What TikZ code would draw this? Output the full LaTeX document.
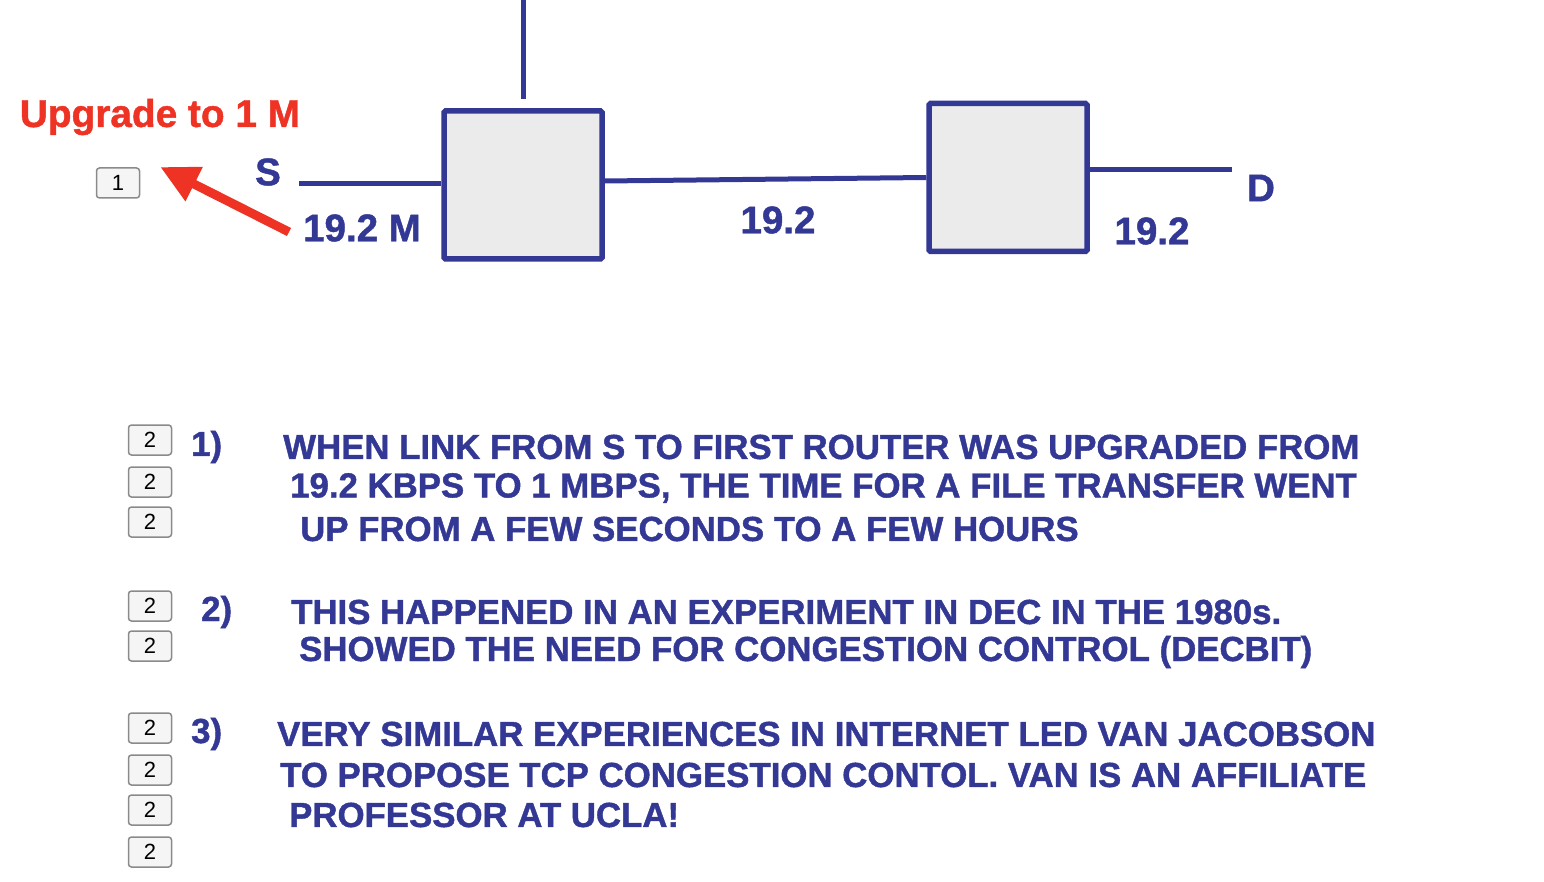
\documentclass[tikz,border=0pt]{standalone}
\usepackage{fontspec}
\setmainfont{Liberation Sans}[BoldFeatures={FakeBold=1.2}]
\usetikzlibrary{arrows.meta,calc}
\definecolor{nblue}{HTML}{333894}
\definecolor{nred}{HTML}{EE3325}
\definecolor{boxfill}{HTML}{EBEBEB}
\definecolor{tagfill}{HTML}{F5F5F5}
\definecolor{tagdraw}{HTML}{8A8A8A}
\tikzset{
  router/.style={draw=nblue,line width=5.5pt,fill=boxfill,rounded corners=1.5pt,minimum width=158pt,minimum height=148pt,inner sep=0pt},
  link/.style={draw=nblue,line width=5pt},
  biglabel/.style={text=nblue,font=\bfseries\fontsize{38.5}{44}\selectfont,inner sep=0pt},
  bodytext/.style={text=nblue,font=\bfseries\fontsize{34.8}{40}\selectfont,inner sep=0pt,anchor=west},
  tag/.style={draw=tagdraw,fill=tagfill,line width=1.5pt,rounded corners=3pt,minimum width=43pt,minimum height=30pt,inner sep=0pt,font=\fontsize{22}{24}\selectfont},
}
\begin{document}
\begin{tikzpicture}[x=1pt,y=-1pt]
\useasboundingbox (0,0) rectangle (1544,882);
% routers
\node[router] (b1) at (523,185) {};
\node[router] (b2) at (1008,177.5) {};
\coordinate (top) at (523,0);
\coordinate (topend) at (523,99);
\coordinate (src) at (299,184);
\coordinate (dst) at (1232,170);
\draw[link] (top) -- (topend);
\draw[link] (src) -- (src -| b1.west);
\draw[link] ([yshift=4pt]b1.east) -- (b2.west);
\draw[link] ([yshift=7.5pt]b2.east) -- (dst);
% labels
\node[biglabel] (S) at (268,172) {S};
\node[biglabel] (D) at (1261,188) {D};
\node[biglabel] (l1) at (362,228) {19.2 M};
\node[biglabel] (l2) at (778,220) {19.2};
\node[biglabel] (l3) at (1152,231) {19.2};
\node[text=nred,font=\bfseries\fontsize{38.8}{44}\selectfont,inner sep=0pt] (up) at (160,117) {Upgrade to 1 M};
\node[tag] (t1) at (118,183) {1};
\coordinate (arrstart) at (289,232);
\draw[nred,line width=9pt,-{Triangle[length=38pt,width=36pt]}] (arrstart) -- ($(t1.east)+(20,-16)$);
% tags
\foreach \n/\yy in {a/440,b/482,c/522,d/606,e/646,f/728,g/770,h/810,i/852}{
  \node[tag] (tag\n) at (150,\yy) {2};
}
% body text
\node[bodytext] (n1) at (191,447) {1)};
\node[bodytext] (p1a) at (283,447) {WHEN LINK FROM S TO FIRST ROUTER WAS UPGRADED FROM};
\node[bodytext] (p1b) at (290,488) {19.2 KBPS TO 1 MBPS, THE TIME FOR A FILE TRANSFER WENT};
\node[bodytext] (p1c) at (300,529) {UP FROM A FEW SECONDS TO A FEW HOURS};
\node[bodytext] (n2) at (201,612) {2)};
\node[bodytext] (p2a) at (291,612) {THIS HAPPENED IN AN EXPERIMENT IN DEC IN THE 1980s.};
\node[bodytext] (p2b) at (299,652) {SHOWED THE NEED FOR CONGESTION CONTROL (DECBIT)};
\node[bodytext] (n3) at (191,734) {3)};
\node[bodytext] (p3a) at (277,734) {VERY SIMILAR EXPERIENCES IN INTERNET LED VAN JACOBSON};
\node[bodytext] (p3b) at (280,775) {TO PROPOSE TCP CONGESTION CONTOL. VAN IS AN AFFILIATE};
\node[bodytext] (p3c) at (289,815) {PROFESSOR AT UCLA!};
\end{tikzpicture}
\end{document}
